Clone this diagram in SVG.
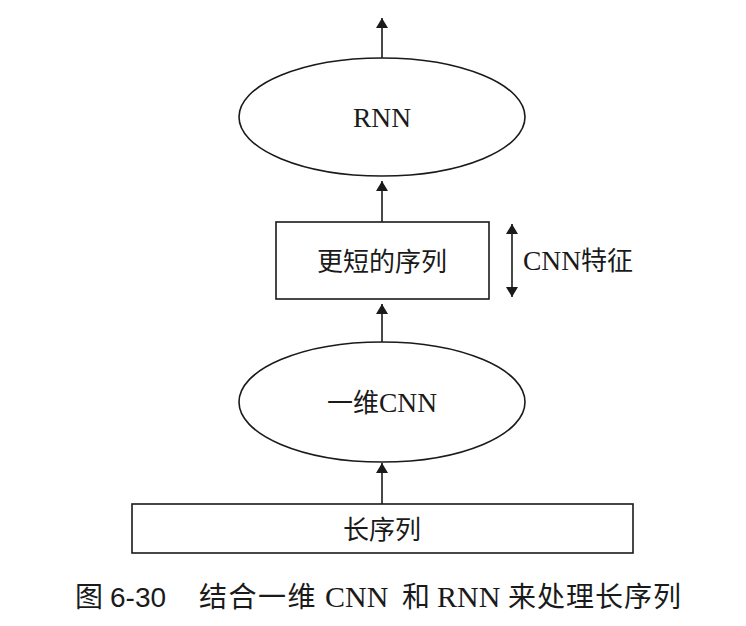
<svg xmlns="http://www.w3.org/2000/svg" width="746" height="626" viewBox="0 0 746 626">
<style>
.shape{fill:#fff;stroke:#1a1a1a;stroke-width:1.6}
.line{stroke:#1a1a1a;stroke-width:1.6;fill:none}
.t{font-family:"Liberation Serif","Noto Sans CJK SC",serif;font-size:26px;fill:#1a1a1a}
.lat{font-size:27.5px}
.cap{font-family:"Liberation Serif","Noto Sans CJK SC",serif;font-size:28px;fill:#1a1a1a}
</style>
<defs>
<marker id="ah" viewBox="0 0 10 14" refX="10" refY="7" markerWidth="10" markerHeight="14" markerUnits="userSpaceOnUse" orient="auto-start-reverse">
<path d="M0,1 L10,7 L0,13 z" fill="#1a1a1a"/>
</marker>
</defs>
<rect width="746" height="626" fill="#fff"/>
<g id="connectors">
<line class="line" x1="382" y1="58" x2="382" y2="18" marker-end="url(#ah)"/>
<line class="line" x1="382" y1="222" x2="382" y2="181" marker-end="url(#ah)"/>
<line class="line" x1="382" y1="342" x2="382" y2="304" marker-end="url(#ah)"/>
<line class="line" x1="382" y1="504" x2="382" y2="463" marker-end="url(#ah)"/>
<line class="line" x1="512" y1="224" x2="512" y2="297" marker-start="url(#ah)" marker-end="url(#ah)"/>
</g>
<g id="rnn">
<ellipse class="shape" cx="382" cy="117" rx="143" ry="59"/>
<text class="t lat" x="382" y="127" text-anchor="middle">RNN</text>
</g>
<g id="shorter-seq">
<rect class="shape" x="276" y="222" width="213" height="77"/>
<text class="t" x="382" y="271" text-anchor="middle">更短的序列</text>
</g>
<g id="cnn-feature-label">
<text class="t" x="523" y="270"><tspan font-size="27.5">CNN</tspan>特征</text>
</g>
<g id="cnn1d">
<ellipse class="shape" cx="382" cy="402" rx="143" ry="60"/>
<text class="t" x="382" y="412" text-anchor="middle">一维<tspan font-size="27.5">CNN</tspan></text>
</g>
<g id="long-seq">
<rect class="shape" x="132" y="504" width="501" height="49"/>
<text class="t" x="382" y="539" text-anchor="middle">长序列</text>
</g>
<g id="caption">
<text class="cap" y="607"><tspan x="75">图</tspan><tspan x="110" font-family="Liberation Sans, sans-serif">6-30</tspan><tspan x="199" letter-spacing="1.5">结合一维</tspan><tspan x="325" font-size="30">CNN</tspan><tspan x="402">和</tspan><tspan x="437" font-size="30">RNN</tspan><tspan x="508" letter-spacing="1">来处理长序列</tspan></text>
</g>
</svg>
